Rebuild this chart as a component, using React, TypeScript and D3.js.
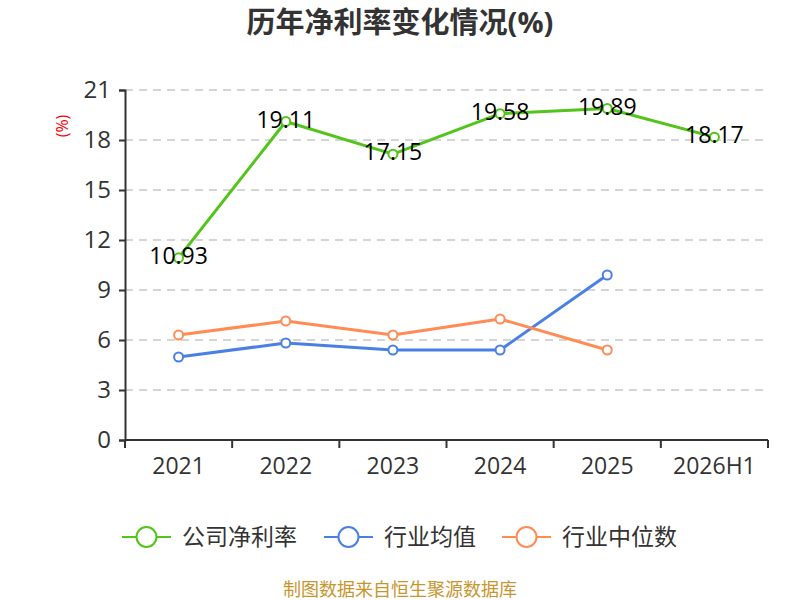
import { useEffect, useRef } from "react";
import * as d3 from "d3";

const years = ["2021", "2022", "2023", "2024", "2025", "2026H1"];
const companyMargin = [10.93, 19.11, 17.15, 19.58, 19.89, 18.17];
const industryAvg = [4.98, 5.82, 5.4, 5.4, 9.9];
const industryMedian = [6.3, 7.14, 6.3, 7.26, 5.4];
const yTicks = [0, 3, 6, 9, 12, 15, 18, 21];

const seriesList = [
  { name: "公司净利率", values: companyMargin, color: "#52C41A" },
  { name: "行业均值", values: industryAvg, color: "#4A80E3" },
  { name: "行业中位数", values: industryMedian, color: "#FF8C55" },
];

const font = "'Open Sans', 'Noto Sans CJK SC', sans-serif";

export default function App() {
  const svgRef = useRef<SVGSVGElement>(null);

  useEffect(() => {
    if (!svgRef.current) return;
    const svg = d3.select(svgRef.current);
    svg.selectAll("*").remove();

    const width = 800;
    const height = 600;
    const margin = { top: 90, right: 32, bottom: 160, left: 125 };

    const x = d3
      .scaleBand()
      .domain(years)
      .range([margin.left, width - margin.right]);
    const y = d3
      .scaleLinear()
      .domain([0, 21])
      .range([height - margin.bottom, margin.top]);

    // Title
    svg
      .append("text")
      .attr("x", width / 2)
      .attr("y", 33)
      .attr("text-anchor", "middle")
      .attr("font-size", "29px")
      .attr("font-weight", "bold")
      .attr("fill", "#333")
      .attr("font-family", font)
      .text("历年净利率变化情况(%)");

    // Unit label
    svg
      .append("text")
      .attr("transform", `translate(68,126) rotate(-90)`)
      .attr("text-anchor", "middle")
      .attr("font-size", "16px")
      .attr("fill", "#FF0000")
      .attr("font-family", font)
      .text("(%)");

    // Grid lines
    svg
      .append("g")
      .selectAll("line")
      .data(yTicks.filter((t) => t > 0))
      .enter()
      .append("line")
      .attr("x1", margin.left)
      .attr("x2", width - margin.right)
      .attr("y1", (d) => y(d))
      .attr("y2", (d) => y(d))
      .attr("stroke", "#C8C8C8")
      .attr("stroke-width", 1.5)
      .attr("stroke-dasharray", "8,6");

    // Y axis
    svg
      .append("g")
      .attr("transform", `translate(${margin.left},0)`)
      .call(d3.axisLeft(y).tickValues(yTicks).tickSize(6).tickPadding(8))
      .call((g) => g.selectAll("path,line").attr("stroke", "#333").attr("stroke-width", 2))
      .call((g) =>
        g
          .selectAll(".tick text")
          .attr("font-size", "24px")
          .attr("fill", "#333")
          .attr("font-family", font)
      );

    // X axis with ticks at band boundaries
    const xAxisG = svg
      .append("g")
      .attr("transform", `translate(0,${y(0)})`);
    xAxisG
      .append("line")
      .attr("x1", margin.left)
      .attr("x2", width - margin.right)
      .attr("stroke", "#333")
      .attr("stroke-width", 2);
    const boundaries = years.map((d) => x(d)!).concat([x.range()[1]]);
    xAxisG
      .selectAll(".bt")
      .data(boundaries)
      .enter()
      .append("line")
      .attr("x1", (d) => d)
      .attr("x2", (d) => d)
      .attr("y1", 0)
      .attr("y2", 8)
      .attr("stroke", "#333")
      .attr("stroke-width", 2);
    xAxisG
      .selectAll(".xl")
      .data(years)
      .enter()
      .append("text")
      .attr("x", (d) => x(d)! + x.bandwidth() / 2)
      .attr("y", 34)
      .attr("text-anchor", "middle")
      .attr("font-size", "23px")
      .attr("fill", "#333")
      .attr("font-family", font)
      .text((d) => d);

    const cx = (i: number) => x(years[i])! + x.bandwidth() / 2;

    const line = d3
      .line<number>()
      .x((_, i) => cx(i))
      .y((d) => y(d));

    seriesList.forEach((s) => {
      svg
        .append("path")
        .datum(s.values)
        .attr("fill", "none")
        .attr("stroke", s.color)
        .attr("stroke-width", 3)
        .attr("stroke-linejoin", "round")
        .attr("d", line);
    });

    seriesList.forEach((s) => {
      svg
        .append("g")
        .selectAll("circle")
        .data(s.values)
        .enter()
        .append("circle")
        .attr("cx", (_, i) => cx(i))
        .attr("cy", (d) => y(d))
        .attr("r", 4.5)
        .attr("fill", "#fff")
        .attr("stroke", s.color)
        .attr("stroke-width", 2);
    });

    // Data labels for company series
    svg
      .append("g")
      .selectAll("text")
      .data(companyMargin)
      .enter()
      .append("text")
      .attr("x", (_, i) => cx(i))
      .attr("y", (d) => y(d) + 6)
      .attr("text-anchor", "middle")
      .attr("font-size", "23px")
      .attr("fill", "#000")
      .attr("font-family", font)
      .text((d) => d.toFixed(2));

    // Legend
    const legendX = [122, 324, 502];
    const legendY = 537;
    const legend = svg
      .append("g")
      .selectAll("g")
      .data(seriesList)
      .enter()
      .append("g")
      .attr("transform", (_, i) => `translate(${legendX[i]},${legendY})`);
    legend
      .append("line")
      .attr("x1", 0)
      .attr("x2", 49)
      .attr("stroke", (d) => d.color)
      .attr("stroke-width", 2);
    legend
      .append("circle")
      .attr("cx", 24.5)
      .attr("r", 10)
      .attr("fill", "#fff")
      .attr("stroke", (d) => d.color)
      .attr("stroke-width", 2);
    legend
      .append("text")
      .attr("x", 60)
      .attr("y", 8)
      .attr("font-size", "23px")
      .attr("fill", "#333")
      .attr("font-family", font)
      .text((d) => d.name);

    // Footer
    svg
      .append("text")
      .attr("x", width / 2)
      .attr("y", 596)
      .attr("text-anchor", "middle")
      .attr("font-size", "18px")
      .attr("fill", "#C8952E")
      .attr("font-family", font)
      .text("制图数据来自恒生聚源数据库");
  }, []);

  return (
    <svg
      ref={svgRef}
      width={800}
      height={600}
      style={{ position: "absolute", left: 0, top: 0, background: "#fff" }}
    />
  );
}
